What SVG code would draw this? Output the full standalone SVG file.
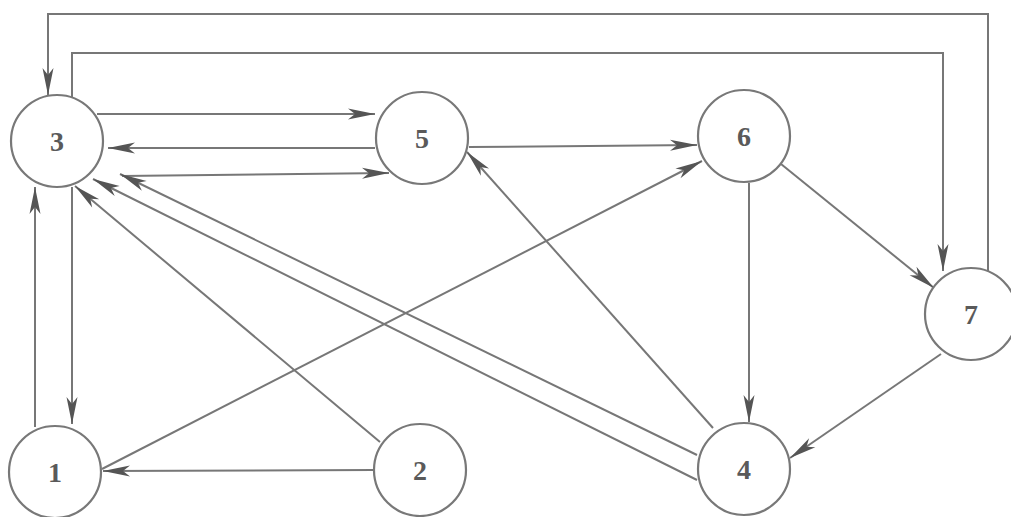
<svg xmlns="http://www.w3.org/2000/svg" width="1011" height="517" viewBox="0 0 1011 517">
<defs>
<style>
.node circle{fill:#fff;stroke:#787878;stroke-width:2.2}
.node text{font-family:"Liberation Serif","DejaVu Serif",serif;font-size:28px;font-weight:bold;fill:#5a5a5a;text-anchor:middle;dominant-baseline:central}
.edges path,.edges line{fill:none;stroke:#777;stroke-width:2}
.arr{marker-end:url(#ah)}
</style>
<marker id="ah" markerUnits="userSpaceOnUse" markerWidth="30" markerHeight="14" viewBox="-28 -7 30 14" refX="0" refY="0" orient="auto">
<path d="M0,0 L-27,-5.5 L-20,0 L-27,5.5 Z" fill="#555"/>
</marker>
</defs>
<rect width="1011" height="517" fill="#fff"/>
<g class="edges">
<path class="arr" d="M988,271 L988,14 L48,14 L48,95"/>
<path class="arr" d="M72,98 L72,53 L943,53 L943,271"/>
<line class="arr" x1="97" y1="114" x2="375" y2="114"/>
<line class="arr" x1="375" y1="148" x2="108" y2="148"/>
<line class="arr" x1="122" y1="176" x2="389" y2="173"/>
<line class="arr" x1="469" y1="147" x2="697" y2="145"/>
<line class="arr" x1="35" y1="427" x2="35" y2="187"/>
<line class="arr" x1="72" y1="187" x2="72" y2="424"/>
<line class="arr" x1="380" y1="442" x2="75" y2="186"/>
<line class="arr" x1="697" y1="480" x2="93" y2="179"/>
<line class="arr" x1="697" y1="455" x2="120" y2="174"/>
<line class="arr" x1="713" y1="428" x2="467" y2="152"/>
<line class="arr" x1="102" y1="469" x2="702" y2="161"/>
<line class="arr" x1="374" y1="470" x2="103" y2="471"/>
<line class="arr" x1="749" y1="183" x2="749" y2="422"/>
<line class="arr" x1="781" y1="164" x2="934" y2="288"/>
<line class="arr" x1="941" y1="354" x2="790" y2="458"/>
</g>
<g id="node3" class="node"><circle cx="57" cy="141" r="46"/><text x="57" y="141">3</text></g>
<g id="node5" class="node"><circle cx="422" cy="138" r="46"/><text x="422" y="138">5</text></g>
<g id="node6" class="node"><circle cx="744" cy="136" r="46"/><text x="744" y="136">6</text></g>
<g id="node7" class="node"><circle cx="971" cy="314" r="46"/><text x="971" y="314">7</text></g>
<g id="node1" class="node"><circle cx="55" cy="472" r="46"/><text x="55" y="472">1</text></g>
<g id="node2" class="node"><circle cx="420" cy="470" r="46"/><text x="420" y="470">2</text></g>
<g id="node4" class="node"><circle cx="744" cy="469" r="46"/><text x="744" y="469">4</text></g>
</svg>
